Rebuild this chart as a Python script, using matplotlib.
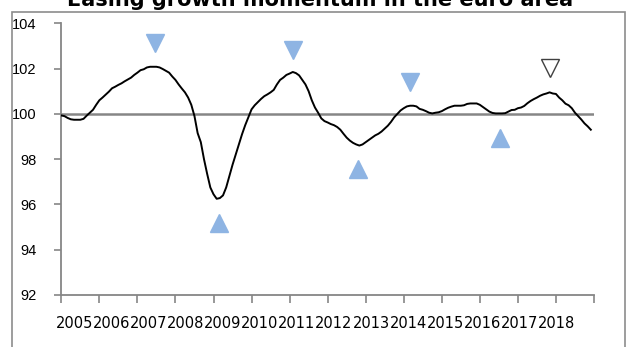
import matplotlib
matplotlib.use("Agg")
import matplotlib.pyplot as plt
from matplotlib.patches import Rectangle

# Monthly composite indicator, Jan 2005 - Dec 2018
years = ["2005", "2006", "2007", "2008", "2009", "2010", "2011",
         "2012", "2013", "2014", "2015", "2016", "2017", "2018"]

indicator = [
    # 2005
    99.93, 99.90, 99.82, 99.76, 99.74, 99.74, 99.74, 99.78, 99.92, 100.05, 100.18, 100.40,
    # 2006
    100.60, 100.72, 100.85, 100.98, 101.13, 101.20, 101.28, 101.35, 101.44, 101.52, 101.60, 101.72,
    # 2007
    101.82, 101.93, 101.97, 102.05, 102.08, 102.08, 102.08, 102.05, 101.98, 101.90, 101.82, 101.65,
    # 2008
    101.50, 101.30, 101.12, 100.95, 100.72, 100.40, 99.90, 99.15, 98.75, 98.00, 97.35, 96.75,
    # 2009
    96.45, 96.25, 96.28, 96.40, 96.75, 97.25, 97.75, 98.20, 98.65, 99.10, 99.50, 99.85,
    # 2010
    100.20, 100.38, 100.52, 100.66, 100.78, 100.86, 100.95, 101.06, 101.30, 101.50, 101.60, 101.72,
    # 2011
    101.78, 101.85, 101.80, 101.70, 101.50, 101.30, 101.00, 100.60, 100.28, 100.05, 99.80, 99.68,
    # 2012
    99.62, 99.55, 99.50, 99.42, 99.30, 99.12, 98.95, 98.82, 98.72, 98.65, 98.60, 98.65,
    # 2013
    98.75, 98.85, 98.95, 99.05, 99.12, 99.22, 99.35, 99.48, 99.65, 99.85, 100.00, 100.15,
    # 2014
    100.25, 100.33, 100.36, 100.36, 100.33, 100.22, 100.18, 100.12, 100.05, 100.02, 100.05, 100.07,
    # 2015
    100.12, 100.20, 100.27, 100.32, 100.36, 100.36, 100.36, 100.38, 100.44, 100.46, 100.46, 100.46,
    # 2016
    100.40, 100.30, 100.20, 100.10, 100.04, 100.02, 100.02, 100.02, 100.03, 100.10, 100.17, 100.18,
    # 2017
    100.25, 100.28, 100.35, 100.47, 100.57, 100.65, 100.72, 100.80, 100.86, 100.90, 100.95, 100.90,
    # 2018
    100.88, 100.72, 100.60, 100.45, 100.38, 100.25, 100.05, 99.90, 99.75, 99.58, 99.45, 99.30,
]

# Turning points (years after Jan 2005, marker level)
peak_x = [2.46, 6.10, 9.17]
peak_y = [103.12, 102.82, 101.42]
trough_x = [4.15, 7.81, 11.53]
trough_y = [95.17, 97.55, 98.92]
latest_peak_x = [12.85]
latest_peak_y = [102.01]

W, H = 628, 347
fig = plt.figure(figsize=(W / 100, H / 100), dpi=100)
fig.patch.set_facecolor("white")

left, right, top, bottom = 61.3, 594.0, 23.3, 295.0
ax = fig.add_axes([left / W, 1 - bottom / H, (right - left) / W, (bottom - top) / H])

axis_grey = "#868686"
tri_blue = "#8EB4E3"

x = [i / 12 for i in range(len(indicator))]
ax.axhline(100, color=axis_grey, lw=1.8, zorder=1)
ax.plot(x, indicator, color="black", lw=1.4, zorder=3, solid_joinstyle="round")

ax.plot(peak_x, peak_y, linestyle="none", marker="v", ms=13.5,
        color=tri_blue, mec=tri_blue, zorder=4)
ax.plot(trough_x, trough_y, linestyle="none", marker="^", ms=13.5,
        color=tri_blue, mec=tri_blue, zorder=4)
ax.plot(latest_peak_x, latest_peak_y, linestyle="none", marker="v", ms=12.5,
        mfc="white", mec="#404040", mew=1.0, zorder=4)

ax.set_xlim(0, 14)
ax.set_ylim(92, 104)

for side in ("top", "right"):
    ax.spines[side].set_visible(False)
for side in ("left", "bottom"):
    ax.spines[side].set_color(axis_grey)
    ax.spines[side].set_linewidth(1.3)

ax.set_yticks(range(92, 105, 2))
ax.set_yticklabels([str(v) for v in range(92, 105, 2)])
ax.tick_params(axis="y", direction="out", length=5, width=1.2, color=axis_grey,
               pad=13, labelsize=10.5, labelcolor="black")
for lab in ax.get_yticklabels():
    lab.set_fontfamily("Liberation Sans")

# Year ticks on the boundaries; year labels packed tightly side by side
ax.set_xticks(range(0, 15))
ax.set_xticklabels([])
label_pos = [0.347 + 0.974 * i for i in range(len(years))]
ax.set_xticks(label_pos, minor=True)
ax.set_xticklabels(years, minor=True)
ax.tick_params(axis="x", which="major", direction="out", length=6, width=1.2,
               color=axis_grey)
ax.tick_params(axis="x", which="minor", length=0, pad=15, labelsize=10.5,
               labelcolor="black")
for lab in ax.get_xticklabels(minor=True):
    lab.set_fontfamily("DejaVu Sans")

# Chart frame
fig.patches.append(Rectangle((12 / W, -0.05), (625 - 12) / W, 1.05 - 11.5 / H,
                             transform=fig.transFigure, fill=False,
                             edgecolor="#8C8C8C", lw=1.2, clip_on=False))

fig.text(320.5 / W, 1 - 5.5 / H, "Easing growth momentum in the euro area",
         ha="center", va="baseline", fontsize=15, fontweight="bold",
         family="DejaVu Sans", color="black")

fig.savefig("out.png", dpi=100, facecolor="white")
